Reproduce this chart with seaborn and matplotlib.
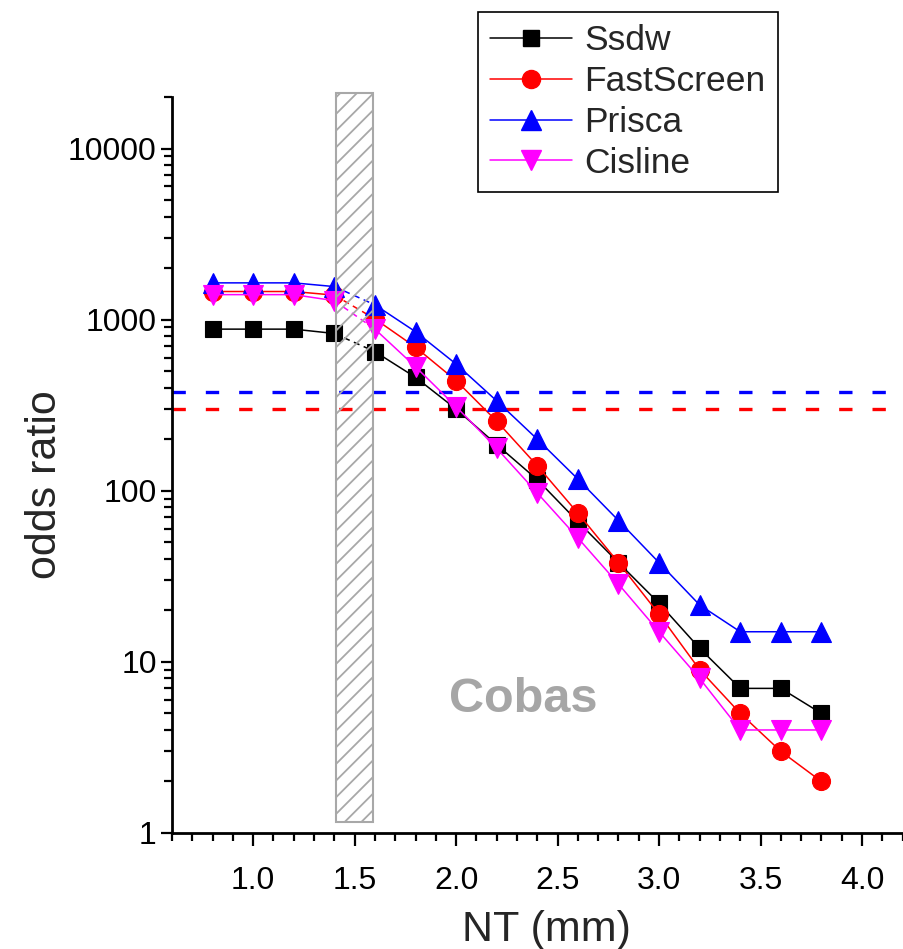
import numpy as np
import pandas as pd
import matplotlib
matplotlib.use("Agg")
import matplotlib.pyplot as plt
import matplotlib.ticker as mticker
from matplotlib.patches import Rectangle
from matplotlib.lines import Line2D
import seaborn as sns

# ---------------- data ----------------
nt = [0.8, 1.0, 1.2, 1.4, 1.6, 1.8, 2.0, 2.2, 2.4, 2.6, 2.8, 3.0, 3.2, 3.4, 3.6, 3.8]
ssdw = [880, 880, 880, 830, 650, 460, 300, 186, 116, 66, 38, 22, 12, 7, 7, 5]
fastscreen = [1460, 1460, 1460, 1390, 1010, 690, 440, 255, 140, 74, 38, 19, 9, 5, 3, 2]
prisca = [1640, 1640, 1640, 1560, 1220, 850, 550, 335, 200, 117, 67, 38, 21.5, 15, 15, 15]
cisline = [1400, 1400, 1400, 1290, 880, 530, 310, 177, 97, 53, 28.5, 15, 8, 4, 4, 4]
series_names = ["Ssdw", "FastScreen", "Prisca", "Cisline"]
series_colors = ["#000000", "#ff0000", "#0000ff", "#ff00ff"]
series_markers = ["s", "o", "^", "v"]
marker_sizes = [11, 13, 14, 14]
cutoff_values = [380, 300]          # blue, red dashed reference lines
cutoff_colors = ["#0000ff", "#ff0000"]
band_x = [1.41, 1.59]
band_y = [1.16, 21200]
xticks = [1.0, 1.5, 2.0, 2.5, 3.0, 3.5, 4.0]
yticks = [1, 10, 100, 1000, 10000]
ytick_labels = ["1", "10", "100", "1000", "10000"]

df = pd.DataFrame({"NT": nt, "Ssdw": ssdw, "FastScreen": fastscreen,
                   "Prisca": prisca, "Cisline": cisline})

sns.set_theme(style="ticks")
plt.rcParams["font.family"] = ["Liberation Sans", "DejaVu Sans"]
plt.rcParams["hatch.color"] = "#a8a8a8"
plt.rcParams["hatch.linewidth"] = 1.3

fig = plt.figure(figsize=(9.04, 9.49), dpi=100)
ax = fig.add_axes([172 / 904, 1 - 833 / 949, (902.6 - 172) / 904, (833 - 97) / 949])

left = df[df["NT"] <= 1.4]
mid = df[(df["NT"] >= 1.4) & (df["NT"] <= 1.6)]
right = df[df["NT"] >= 1.6]

for name, col, mk, ms in zip(series_names, series_colors, series_markers, marker_sizes):
    for part in (left, right):
        sns.lineplot(data=part, x="NT", y=name, ax=ax, color=col, marker=mk,
                     markersize=ms, markeredgecolor=col, markeredgewidth=0.8,
                     linewidth=1.1, estimator=None, sort=False, legend=False)
    sns.lineplot(data=mid, x="NT", y=name, ax=ax, color=col, linewidth=1.1,
                 linestyle=(0, (4, 3)), estimator=None, sort=False, legend=False)

for v, c in zip(cutoff_values, cutoff_colors):
    ax.axhline(v, color=c, linewidth=2.4, linestyle=(0, (4, 6)), zorder=1)

rect = Rectangle((band_x[0], band_y[0]), band_x[1] - band_x[0], band_y[1] - band_y[0],
                 facecolor="none", edgecolor="#a8a8a8", hatch="//", linewidth=1.5,
                 zorder=5, clip_on=False)
ax.add_patch(rect)

ax.text(2.33, 6.0, "Cobas", color="#a6a6a6", fontsize=35, fontweight="bold",
        ha="center", va="center")

ax.set_yscale("log")
ax.set_xlim(0.6, 4.2)
ax.set_ylim(1, 20000)
ax.set_xticks(xticks)
ax.xaxis.set_major_formatter(mticker.FormatStrFormatter("%.1f"))
ax.xaxis.set_minor_locator(mticker.MultipleLocator(0.1))
ax.set_yticks(yticks)
ax.set_yticklabels(ytick_labels)
ax.yaxis.set_minor_locator(mticker.LogLocator(base=10, subs=np.arange(2, 10), numticks=20))
ax.yaxis.set_minor_formatter(mticker.NullFormatter())

for s in ["top", "right"]:
    ax.spines[s].set_visible(False)
for s in ["left", "bottom"]:
    ax.spines[s].set_linewidth(2.0)
    ax.spines[s].set_color("black")

ax.tick_params(axis="both", which="major", width=1.6, labelsize=23,
               color="black", labelcolor="black", direction="out")
ax.tick_params(axis="x", which="major", length=9.5, pad=14)
ax.tick_params(axis="y", which="major", length=8, pad=3)
ax.tick_params(axis="both", which="minor", length=5.5, width=1.6, color="black",
               direction="out")
ax.grid(False)
ax.set_xlabel("NT (mm)", fontsize=31)
ax.set_ylabel("odds ratio", fontsize=31)
ax.xaxis.label.set_va("center")
ax.xaxis.set_label_coords(0.512, (833 - 930) / 736)
ax.yaxis.label.set_va("center")
ax.yaxis.set_label_coords((45 - 172) / 730.6, 0.473)

handles = [Line2D([0], [0], color=c, marker=m, markersize=ms, markeredgecolor=c,
                  linewidth=1.1) for c, m, ms in zip(series_colors, series_markers, marker_sizes)]
leg = fig.legend(handles, series_names, loc="upper left",
                 bbox_to_anchor=(478 / 904, 1 - 12 / 949), fontsize=25.5,
                 frameon=True, fancybox=False, edgecolor="black", framealpha=1,
                 handlelength=2.3, handletextpad=0.35, labelspacing=0.22,
                 borderpad=0.35, borderaxespad=0)
leg.get_frame().set_linewidth(1.2)

fig.savefig("out.png", dpi=100)
